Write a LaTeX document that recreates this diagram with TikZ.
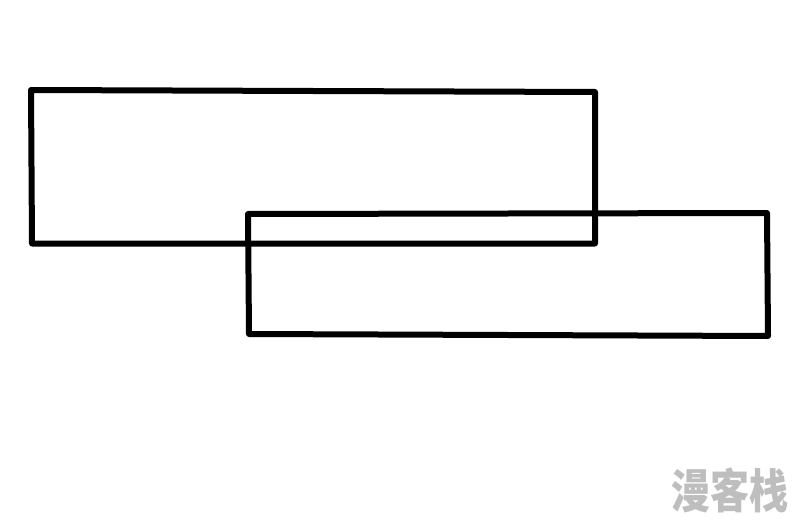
\documentclass[tikz,border=0pt]{standalone}
\usepackage{fontspec}
\newfontfamily\cjk{Noto Sans CJK SC}[BoldFont={Noto Sans CJK SC Black}]
\definecolor{wm}{RGB}{190,190,190}
\tikzset{
  box/.style={draw=black,line width=6pt,line join=round,line cap=round},
  mark text/.style={text=wm,font=\cjk\bfseries\fontsize{39pt}{39pt}\selectfont,inner sep=0pt,yscale=1.2,transform shape}
}
\begin{document}
\begin{tikzpicture}[x=1pt,y=-1pt]
\useasboundingbox[fill=white] (0,0) rectangle (800,524);
\draw[box] (31,90) -- (595,92) -- (595,243.5) -- (32,243.5) -- cycle;
\draw[box] (248,214) -- (767,213) -- (768,336) -- (249,334) -- cycle;
\node[mark text] (watermark) at (730,490) {漫客栈};
\end{tikzpicture}
\end{document}
